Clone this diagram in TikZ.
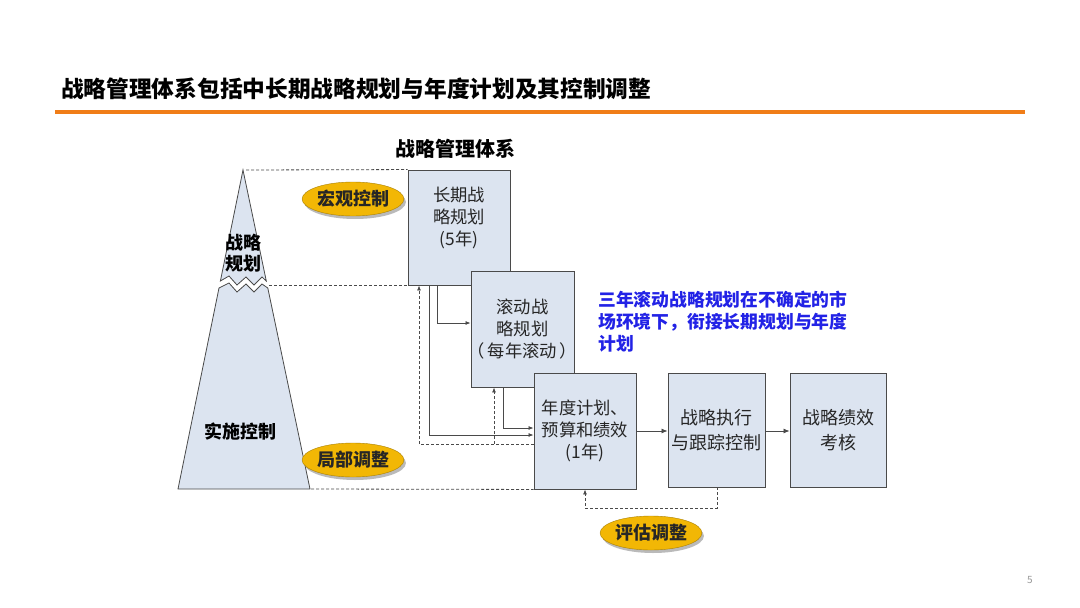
\documentclass[tikz,border=0pt]{standalone}
\usepackage{fontspec}
\setmainfont{Noto Sans CJK SC}
\usetikzlibrary{arrows.meta,shapes.geometric,shadows,calc}
\definecolor{boxfill}{HTML}{DCE4F0}
\definecolor{boxline}{HTML}{4A4A4A}
\definecolor{gold}{HTML}{F2B705}
\definecolor{orangeline}{HTML}{F07D18}
\definecolor{noteblue}{HTML}{2222E6}
\tikzset{
  stagebox/.style={draw=boxline, line width=0.9pt, fill=boxfill, inner sep=0pt},
  boxtxt/.style={align=center, font=\fontsize{17.3}{22}\selectfont, text=black!85},
  tag/.style={ellipse, fill=gold, draw=gold!70!black, line width=0.4pt, minimum width=90pt, minimum height=34pt, inner sep=0pt,
    font=\fontsize{18}{20}\selectfont\bfseries, text=black!85,
    drop shadow={shadow xshift=2pt, shadow yshift=-3pt, fill=black!45, opacity=0.6}},
  solidarr/.style={draw=boxline, line width=0.8pt, -{Latex[length=5pt,width=4pt]}},
  dasharr/.style={draw=boxline, line width=0.8pt, dash pattern=on 3pt off 2pt, -{Latex[length=5pt,width=4pt]}},
  dashln/.style={draw=boxline, line width=0.8pt, dash pattern=on 3pt off 2pt},
  plainarr/.style={draw=boxline, line width=0.8pt, -{Latex[length=6pt,width=5pt]}},
}
\begin{document}
\begin{tikzpicture}[x=1pt,y=-1pt]
\useasboundingbox (0,0) rectangle (1080,608);
\fill[white] (0,0) rectangle (1080,608);

% title
\node[anchor=west, font=\fontsize{22.7}{26}\selectfont\bfseries, inner sep=0pt] (title) at (61,89) {战略管理体系包括中长期战略规划与年度计划及其控制调整};
\draw[orangeline, line width=3.5pt] (55,112) coordinate (ol) -- (1025,112) coordinate (or);

\node[font=\fontsize{20}{22}\selectfont\bfseries, inner sep=0pt] (sys) at (455,149) {战略管理体系};

% pyramid
\filldraw[fill=boxfill, draw=boxline, line width=0.8pt]
  (243,170) coordinate (apex) -- (220.4,281) -- (229,276) -- (237,285) -- (246,277) -- (254,285) -- (262,277) -- (266.3,281) -- cycle;
\filldraw[fill=boxfill, draw=boxline, line width=0.8pt]
  (219,288) -- (229,283) -- (237,292) -- (246,284) -- (254,292) -- (262,284) -- (267.8,288) coordinate (breakR)
  -- (310,489) coordinate (baseR) -- (178,489) -- cycle;
\node[align=center, font=\fontsize{18}{21}\selectfont\bfseries, inner sep=0pt] (plan) at (243,253) {战略\\规划};
\node[font=\fontsize{18}{21}\selectfont\bfseries, inner sep=0pt] (impl) at (240,432) {实施控制};

% boxes
\node[stagebox, minimum width=102pt, minimum height=115pt] (box1) at (459,227.5) {};
\node[stagebox, minimum width=103pt, minimum height=116pt] (box2) at (522.5,329) {};
\node[stagebox, minimum width=102pt, minimum height=116pt] (box3) at (585,431) {};
\node[stagebox, minimum width=97pt, minimum height=114pt] (box4) at (716.5,430) {};
\node[stagebox, minimum width=96pt, minimum height=114pt] (box5) at (838,430) {};

\node[boxtxt] (t1) at ([yshift=10pt]box1.center) {长期战\\略规划\\(5年)};
\node[boxtxt] (t2) at (box2.center) {滚动战\\略规划\\（\,每年滚动\,）};
\node[boxtxt] (t3) at (box3.center) {年度计划、\\预算和绩效\\(1年)};
\node[boxtxt, font=\fontsize{18}{25.5}\selectfont] (t4) at (box4.center) {战略执行\\与跟踪控制};
\node[boxtxt, font=\fontsize{18}{25.5}\selectfont] (t5) at (box5.center) {战略绩效\\考核};

% dashed guide lines
\draw[dashln] ([xshift=3pt]apex) -- (box1.north west);
\draw[dashln] ([xshift=1pt]breakR |- box1.south) -- (box1.south west);
\draw[dashln] ([xshift=1pt]baseR) -- (box3.south west);

% solid connectors
\coordinate (c1) at (437,323);
\coordinate (c2) at (429,435);
\coordinate (c3) at (503,428);
\draw[solidarr] (box1.south -| c1) |- (c1 -| box2.west);
\draw[solidarr] (box1.south -| c2) |- (c2 -| box3.west);
\draw[solidarr] (box2.south -| c3) |- (c3 -| box3.west);

% dashed feedback
\coordinate (d1) at (419,444);
\coordinate (d2) at (494,444);
\draw[dasharr] (d1 -| box3.west) -- (d1) -- (d1 |- box1.south);
\draw[dasharr] (d2) -- (d2 |- box2.south);

% horizontal arrows
\draw[plainarr] (box3.east |- t4) ++(0,1) -- ([yshift=-1pt]box4.west);
\draw[plainarr] (box4.east) ++(0,1) -- ([yshift=-1pt]box5.west);

% evaluation loop
\coordinate (e1) at (717,508);
\coordinate (e2) at (585,508);
\draw[dasharr] (e1 |- box4.south) -- (e1) -- (e2) -- (e2 |- box3.south);

% tags
\node[tag] (macro) at (353,199) {宏观控制};
\node[tag] (local) at (353,460) {局部调整};
\node[tag] (evalt) at (651,533) {评估调整};

% note
\node[anchor=north west, align=left, inner sep=0pt, text=noteblue, font=\fontsize{17.8}{22}\selectfont\bfseries] (note) at (598,291)
  {三年滚动战略规划在不确定的市\\场环境下，衔接长期规划与年度\\计划};

% page number
\node[text=black!40, font=\fontsize{10}{12}\selectfont, inner sep=0pt] (pg) at (1030,580) {5};
\end{tikzpicture}
\end{document}
